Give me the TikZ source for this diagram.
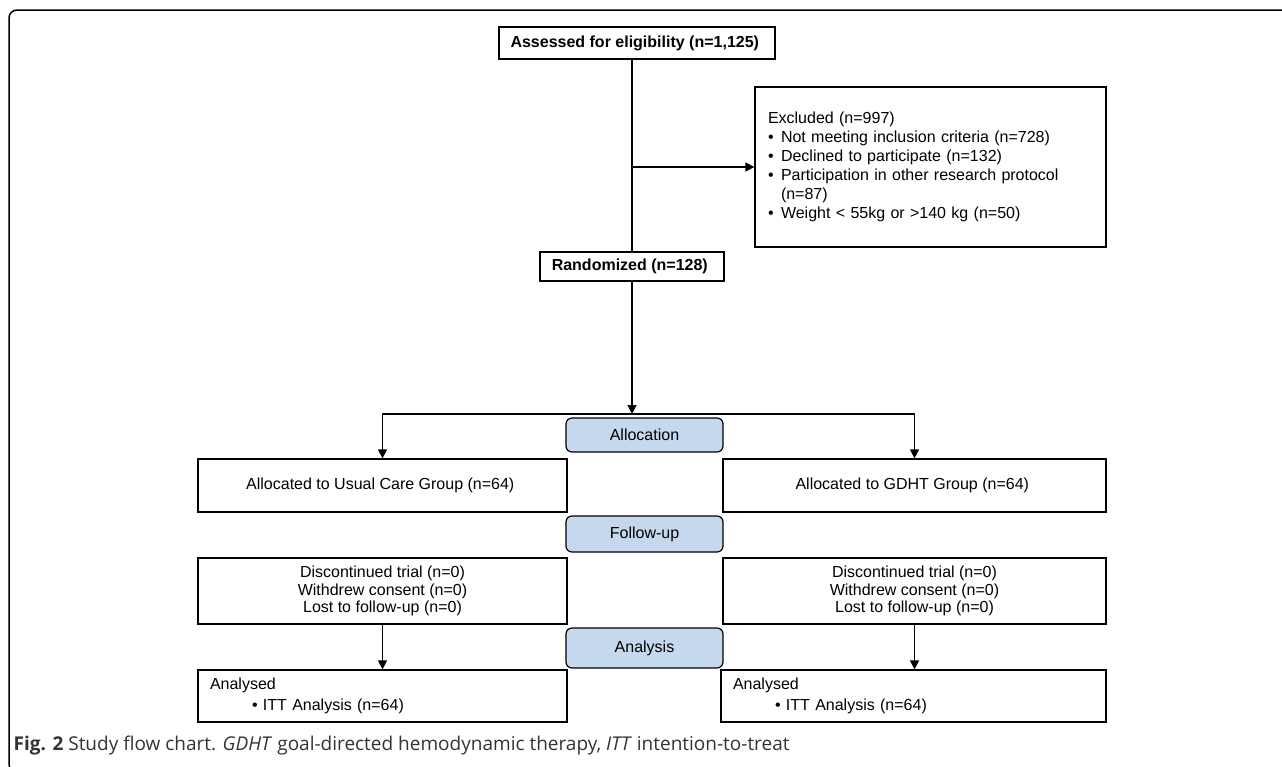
\documentclass[tikz,border=0pt]{standalone}
\usepackage{fontspec}
\setmainfont{Liberation Sans}
\newfontfamily\capfont{Open Sans}
\usetikzlibrary{arrows.meta}
\definecolor{stageblue}{HTML}{C6D8EE}
\definecolor{capgray}{HTML}{333333}
\newcommand{\itm}{\makebox[13pt][l]{\textbullet}}

\begin{document}
\begin{tikzpicture}[x=1pt, y=-1pt, line width=1.2pt,
        box/.style={draw, rectangle, inner sep=0pt, align=center, font=\fontsize{16}{17.5}\selectfont},
        stage/.style={draw, rounded corners=6pt, fill=stageblue, inner sep=0pt, minimum width=157pt, font=\fontsize{16}{18}\selectfont},
        >={Triangle[length=9pt,width=9pt]}]
        \useasboundingbox (0,0) rectangle (1282,766);
        \draw[line width=1.5pt, rounded corners=8pt] (30,772) -- (9,772) -- (9,10) -- (1300,10);

        \node[box, minimum width=276pt, minimum height=32pt] (assess) at (637, 43) { \textbf{Assessed for eligibility (n=1,125)} };
        \node[box, minimum width=184pt, minimum height=29pt] (rand) at (632, 266.5) { \textbf{Randomized (n=128)} };
        \node[box, text width=325pt, inner xsep=13pt, minimum height=160pt, align=left, font=\fontsize{16}{19}\selectfont] (excl) at (930.5, 167) {
            Excluded (n=997)\\
            \itm Not meeting inclusion criteria (n=728)\\
            \itm Declined to participate (n=132)\\
            \itm Participation in other research protocol\\
            \hspace*{13pt}(n=87)\\
            \itm Weight < 55kg or >140 kg (n=50) };

        \node[stage, minimum height=34pt] (alloc) at (644.5, 435) { Allocation };
        \node[stage, minimum height=36pt] (follow) at (644.5, 534) { Follow-up };
        \node[stage, minimum height=40pt] (anal) at (644.5, 648) { Analysis };

        \node[box, minimum width=369pt, minimum height=53pt] (usual) at (382.5, 485.5) { Allocated to Usual Care Group (n=64) };
        \node[box, minimum width=383pt, minimum height=53pt] (gdht) at (914.5, 485.5) { Allocated to GDHT Group (n=64) };

        \node[box, minimum width=369pt, minimum height=66pt] (discA) at (382.5, 591) { Discontinued trial (n=0)\\ Withdrew consent (n=0)\\ Lost to follow-up (n=0) };
        \node[box, minimum width=383pt, minimum height=66pt] (discB) at (914.5, 591) { Discontinued trial (n=0)\\ Withdrew consent (n=0)\\ Lost to follow-up (n=0) };

        \node[box, text width=345pt, inner xsep=12pt, minimum height=52pt, align=left, font=\fontsize{16}{21}\selectfont] (ittA) at (382.5, 696) { Analysed\\ \hspace*{42pt}\textbullet\ ITT Analysis (n=64) };
        \node[box, text width=361pt, inner xsep=12pt, minimum height=52pt, align=left, font=\fontsize{16}{21}\selectfont] (ittB) at (913.5, 696) { Analysed\\ \hspace*{42pt}\textbullet\ ITT Analysis (n=64) };

        \coordinate (split) at (632, 414);

        \draw (assess.south -| rand.north) -- (rand.north);
        \draw[->] (rand.north |- excl.west) -- (excl.west);
        \draw[->] (rand.south) -- (split);
        \draw[->] (split) -| (usual.north);
        \draw[->] (split) -| (gdht.north);
        \draw[->] (discA.south) -- (ittA.north);
        \draw[->] (discB.south) -- (discB.south |- ittB.north);

        \node[anchor=base west, inner sep=0pt, text=capgray, font=\capfont\fontsize{19}{22}\selectfont] (cap) at (13, 750) { \textbf{Fig. 2} Study flow chart. \textit{GDHT} goal-directed hemodynamic therapy, \textit{ITT} intention-to-treat };
    \end{tikzpicture}
\end{document}
